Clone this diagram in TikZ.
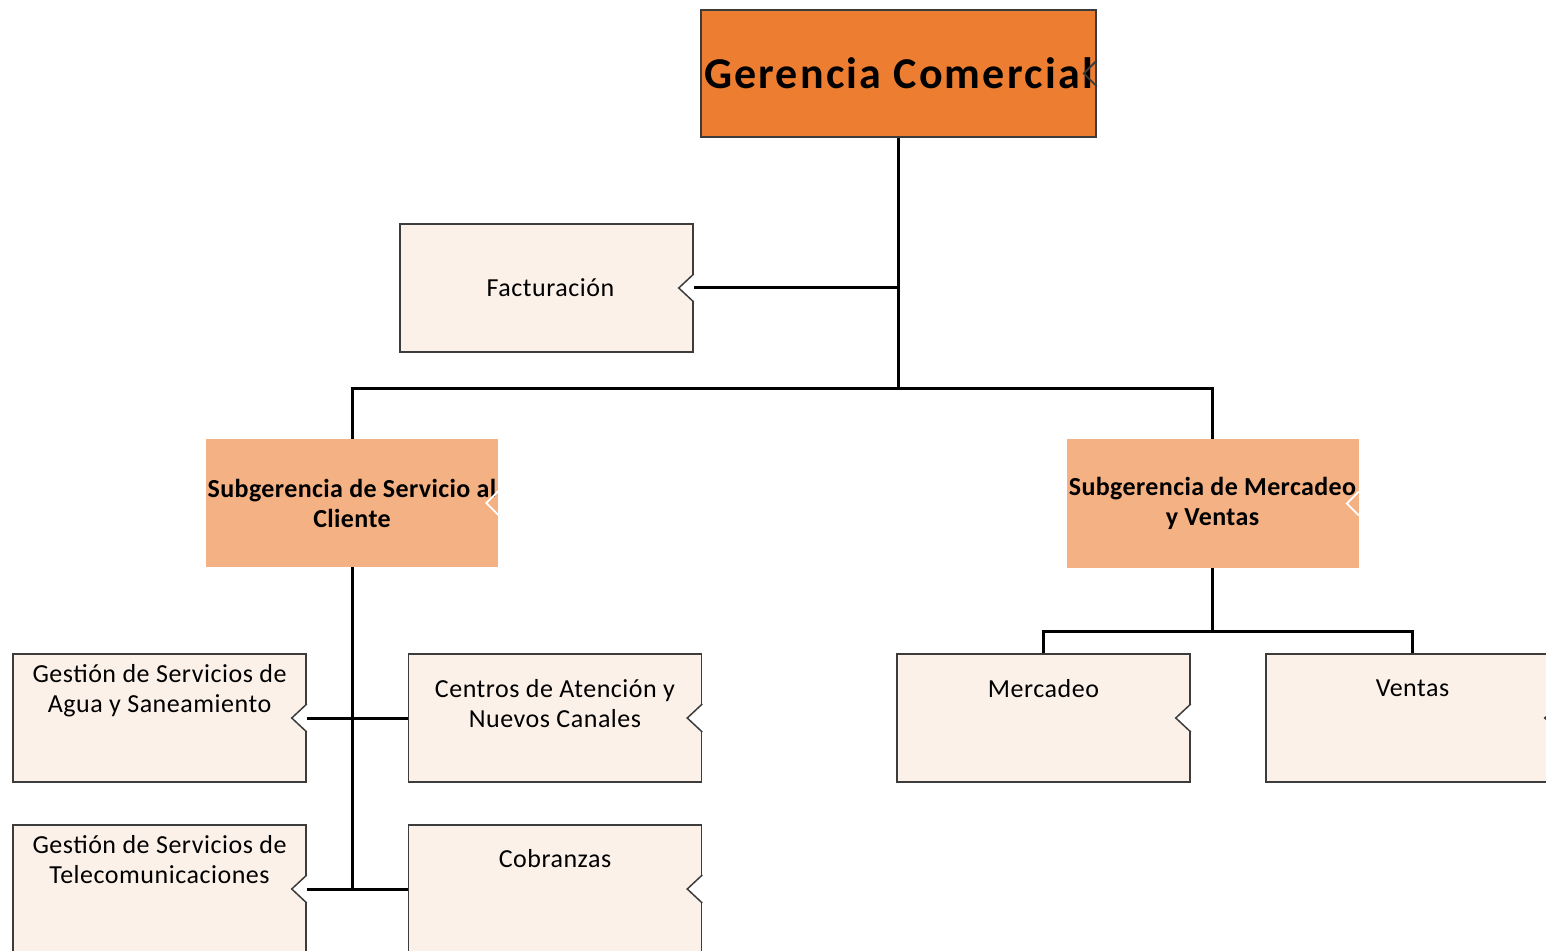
\documentclass[tikz,border=0pt]{standalone}
\usepackage{fontspec}
\setmainfont{Carlito}
\newfontfamily\unitfont[LetterSpace=2]{Carlito}
\newfontfamily\subfont[LetterSpace=1.5]{Carlito}
\newfontfamily\gerfont[LetterSpace=5]{Carlito}
\definecolor{gerfill}{HTML}{ED7D31}
\definecolor{subfill}{HTML}{F4B183}
\definecolor{unitfill}{HTML}{FBF1E9}
\definecolor{boxline}{HTML}{3C3C3C}
\tikzset{
  unit/.style={draw=boxline, line width=0.75pt, fill=unitfill, minimum width=146.5pt, minimum height=64pt, inner sep=0pt},
  unittext/.style={font=\unitfont\fontsize{13}{15}\selectfont, align=center, inner sep=0pt, anchor=north},
  subunit/.style={fill=subfill, minimum width=146pt, minimum height=64pt, inner sep=0pt, align=center, font=\subfont\fontsize{13}{15}\selectfont\bfseries},
  conn/.style={line width=1.5pt, black},
}
\begin{document}
\begin{tikzpicture}[x=0.5pt, y=-0.5pt]
    \useasboundingbox (0,0) rectangle (1546,951);
    \clip (0,0) rectangle (1546,951);
    % top
    \node[draw=boxline, line width=0.75pt, fill=gerfill, minimum width=197.5pt, minimum height=63.5pt, inner sep=0pt, font=\gerfont\fontsize{22}{26}\selectfont\bfseries] (ger) at (898.5,73.5) {Gerencia Comercial};
    \node[unit, font=\unitfont\fontsize{13}{15}\selectfont] (fact) at (546.5,288) {\hspace{4pt}Facturación};
    % subgerencias
    \node[subunit] (ssc) at (352,503) {Subgerencia de Servicio al\\Cliente};
    \node[subunit] (smv) at (1212.5,503.5) {Subgerencia de Mercadeo\\y Ventas};
    % units
    \node[unit, label={[unittext, yshift=-5.5pt]north:Gestión de Servicios de\\Agua y Saneamiento}] (agua) at (159.5,718) {};
    \node[unit, label={[unittext, yshift=-13pt]north:Centros de Atención y\\Nuevos Canales}] (centros) at (555,718) {};
    \node[unit, label={[unittext, yshift=-5.5pt]north:Gestión de Servicios de\\Telecomunicaciones}] (tele) at (159.5,889) {};
    \node[unit, label={[unittext, yshift=-12.5pt]north:Cobranzas}] (cobr) at (555,889) {};
    \node[unit, label={[unittext, yshift=-13pt]north:Mercadeo}] (merc) at (1043.5,718) {};
    \node[unit, label={[unittext, yshift=-13pt]north:Ventas}] (vent) at (1412.5,718) {};
    % notches
    \foreach \n in {fact,agua,centros,tele,cobr,merc,vent}{
      \fill[white] ([yshift=7pt]\n.east) -- ([xshift=-7.5pt]\n.east) -- ([yshift=-7pt]\n.east) -- cycle;
      \draw[boxline, line width=0.75pt] ([yshift=7pt]\n.east) -- ([xshift=-7.5pt]\n.east) -- ([yshift=-7pt]\n.east);
    }
    \foreach \n in {ssc,smv}{
      \draw[white, line width=0.9pt] ([yshift=6pt]\n.east) -- ([xshift=-6pt]\n.east) -- ([yshift=-6pt]\n.east);
    }
    \draw[boxline, line width=0.9pt] ([yshift=6.5pt]ger.east) -- ([xshift=-6.5pt]ger.east) -- ([yshift=-6.5pt]ger.east);
    % connectors
    \coordinate (bar) at (898.5,389);
    \coordinate (mvbar) at (1212.5,631);
    \draw[conn] (ger.south) -- (bar);
    \draw[conn] (fact.east) -- (fact.east -| ger.south);
    \draw[conn] (ssc.north) |- (bar) -| (smv.north);
    \draw[conn] (ssc.south) -- (ssc.south |- tele.east);
    \draw[conn] (agua.east) -- (centros.west);
    \draw[conn] (tele.east) -- (cobr.west);
    \draw[conn] (smv.south) -- (mvbar);
    \draw[conn] (merc.north) |- (mvbar) -| (vent.north);
\end{tikzpicture}
\end{document}
